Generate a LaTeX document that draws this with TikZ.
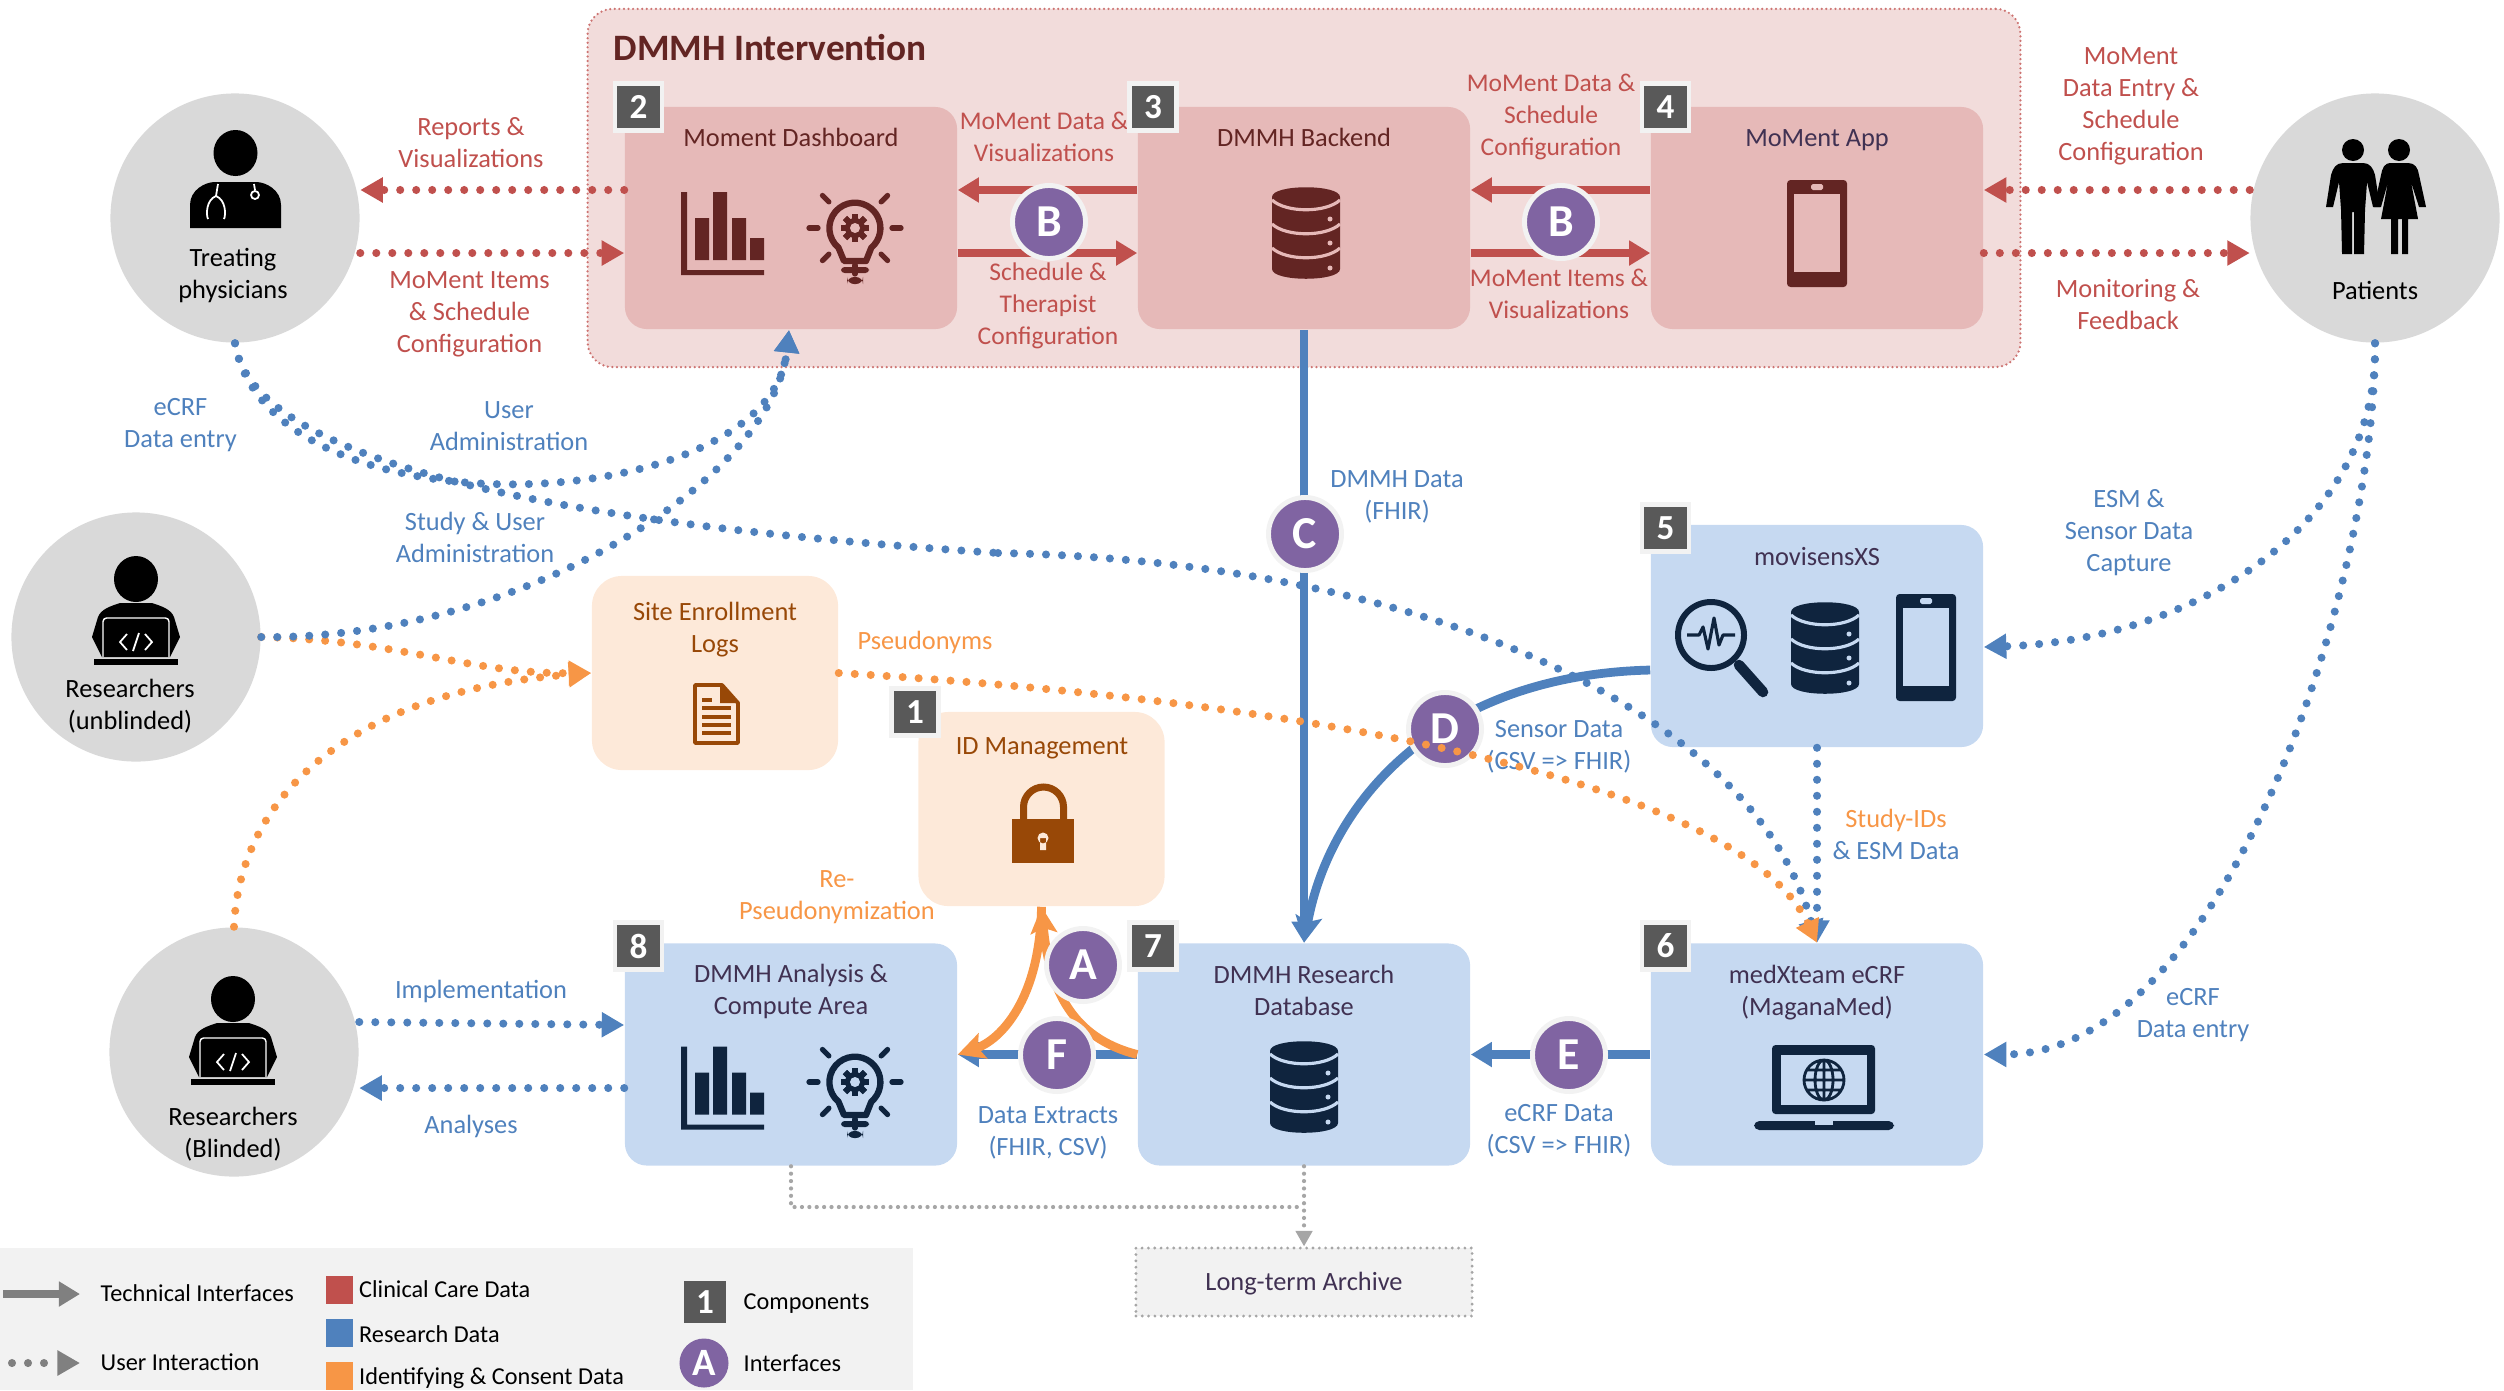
\documentclass[tikz,border=0pt]{standalone}
\usepackage{fontspec}
\setmainfont{Carlito}
\usetikzlibrary{arrows.meta}

\definecolor{clinical}{HTML}{C0504D}
\definecolor{research}{HTML}{4F81BD}
\definecolor{identity}{HTML}{F79646}
\definecolor{redpale}{HTML}{F2DCDB}
\definecolor{redfill}{HTML}{E6B9B8}
\definecolor{redink}{HTML}{632523}
\definecolor{bluefill}{HTML}{C6D9F1}
\definecolor{blueink}{HTML}{0F243E}
\definecolor{bluetext}{HTML}{403152}
\definecolor{orangefill}{HTML}{FDE9D9}
\definecolor{orangeink}{HTML}{984807}
\definecolor{purple}{HTML}{8064A2}
\definecolor{tagfill}{HTML}{595959}
\definecolor{rim}{HTML}{F2F2F2}
\definecolor{persongray}{HTML}{D9D9D9}
\definecolor{archgray}{HTML}{A6A6A6}

\newcommand{\txt}{\fontsize{7.5}{9.1}\selectfont}
\newcommand{\txtsmall}{\fontsize{7.25}{9.1}\selectfont}
\newcommand{\txtlegend}{\fontsize{6.9}{8.4}\selectfont}

\tikzset{
  redbox/.style={fill=redfill, rounded corners=.22cm, minimum width=3.32cm, minimum height=2.22cm, inner sep=0},
  bluebox/.style={fill=bluefill, rounded corners=.22cm, minimum width=3.32cm, minimum height=2.22cm, inner sep=0},
  orangebox/.style={fill=orangefill, rounded corners=.3cm, minimum width=2.46cm, minimum height=1.94cm, inner sep=0},
  person/.style={circle, fill=persongray, minimum size=2.49cm, inner sep=0},
  numtag/.style={fill=tagfill, draw=rim, line width=1.2pt, minimum size=.47cm, inner sep=0, text=white, font=\fontsize{10}{12}\selectfont\bfseries},
  iface/.style={circle, fill=purple, draw=rim, line width=1.4pt, minimum size=.73cm, inner sep=0, text=white, font=\fontsize{13}{15}\selectfont\bfseries},
  redlbl/.style={text=clinical, align=center, font=\txt, inner sep=0},
  redtight/.style={redlbl, font=\txtsmall},
  bluelbl/.style={text=research, align=center, font=\txt, inner sep=0, yshift=-.015cm},
  orangelbl/.style={text=identity, align=center, font=\txt, inner sep=0, yshift=-.015cm},
  inbox/.style={align=center, font=\txt, inner sep=0},
  legendlbl/.style={anchor=west, font=\txtlegend, inner sep=0},
  dots/.style={line width=2.3pt, line cap=round, dash pattern=on 0pt off 4.55pt, -{Triangle[length=6.4pt,width=6.8pt]}},
  plain/.style={line width=2.3pt, -{Triangle[length=6pt,width=6.8pt]}},
  curved/.style={line width=2.5pt, -{Stealth[length=7.5pt,width=7.5pt,inset=1.5pt]}},
  graydots/.style={archgray, line width=1.2pt, line cap=round, dash pattern=on 0pt off 2.1pt}
}

% icons: position, ink colour, colour of the box behind
\newcommand{\barsicon}[3]{
  \begin{scope}[shift={(#1,#2)}]
    \fill[#3] (-41,-41) rectangle (-35,42) (-41,37) rectangle (42,42);
    \fill[#3] (-27,-15) rectangle (-13,27) (-9,-41) rectangle (5,27) (10,-15) rectangle (24,27) (28,5) rectangle (42,27);
  \end{scope}}
\newcommand{\bulbicon}[4]{
  \begin{scope}[shift={(#1,#2)}]
    \draw[#3, line width=1.8pt, line join=round] (-11,33) -- (-16.5,19.7) arc[start angle=130, end angle=410, radius=25.5] -- (11,33) -- cycle;
    \foreach \a in {0,45,...,315}
      \fill[#3, rotate=\a] (-3,-14) rectangle (3,14);
    \fill[#3] (0,0) circle[radius=10];
    \fill[#4] (0,0) circle[radius=5];
    \foreach \a in {0,45,135,180,225,270,315}
      \draw[#3, line width=1.5pt, line cap=round, rotate=\a] (37,0) -- (46,0);
    \fill[#3, rounded corners=1pt] (-14,39) rectangle (14,45);
    \fill[#3, rounded corners=2pt] (-8,49) rectangle (8,56);
  \end{scope}}
\newcommand{\dbicon}[4]{
  \begin{scope}[shift={(#1,#2)}]
    \fill[#3] (-34,-36) .. controls (-34,-49) and (34,-49) .. (34,-36) -- (34,36) .. controls (34,49) and (-34,49) .. (-34,36) -- cycle;
    \foreach \y in {-33,-9,15}
      \draw[#4, line width=.9pt] (-34,\y) .. controls (-20,\y+13) and (20,\y+13) .. (34,\y);
    \foreach \y in {-14,10,35}
      \fill[#4] (24,\y) circle[radius=2.5];
  \end{scope}}
\newcommand{\phoneicon}[4]{
  \begin{scope}[shift={(#1,#2)}]
    \fill[#3, rounded corners=1pt] (-30,-53) rectangle (30,54);
    \fill[#4] (-23,-39) rectangle (23,39);
    \fill[#4, rounded corners=.5pt] (-6,-49) rectangle (6,-43);
  \end{scope}}

\newcommand{\researcher}[2]{
  \begin{scope}[shift={(#1,#2)}]
    \fill[black] (0,0) ellipse[x radius=22, y radius=23];
    \fill[black] (-44,58) -- (-38,38) .. controls (-35,30) and (-25,27) .. (-16,24) -- (16,24) .. controls (25,27) and (35,30) .. (38,38) -- (44,58) -- (34,78) -- (-34,78) -- cycle;
    \draw[white, line width=.4pt, rounded corners=1pt] (-33,78) -- (-33,39) -- (33,39) -- (33,78);
    \fill[black] (-42,80) rectangle (42,86);
    \draw[white, line width=.5pt] (-9,55) -- (-16,63) -- (-9,71) (9,55) -- (16,63) -- (9,71) (3,54) -- (-3,72);
  \end{scope}}

\begin{document}
\begin{tikzpicture}[x=0.01cm,y=-0.01cm]
  \useasboundingbox (0,0) rectangle (2504,1390);

  % intervention frame
  \node[fill=redpale, draw=clinical!80, line width=.7pt, dash pattern=on 0pt off 1.3pt, line cap=round, rounded corners=.25cm, minimum width=14.32cm, minimum height=3.58cm, inner sep=0] (interv) at (1304,188) {};
  \node[anchor=west, text=redink, inner sep=0, font=\fontsize{10.6}{12}\selectfont\bfseries] (intervlbl) at (613,48) {DMMH Intervention};

  % legend
  \fill[rim] (0,1248) rectangle (913,1390);

  % components
  \node[redbox] (dash) at (791,218) {};
  \node[redbox] (backend) at (1304,218) {};
  \node[redbox] (app) at (1817,218) {};
  \node[bluebox] (movisens) at (1817,636) {};
  \node[bluebox] (ecrf) at (1817,1054.5) {};
  \node[bluebox] (resdb) at (1304,1054.5) {};
  \node[bluebox] (compute) at (791,1054.5) {};
  \node[orangebox] (site) at (715,673) {};
  \node[orangebox] (idm) at (1041.5,809) {};
  \node[fill=rim, draw=archgray, line width=.9pt, dash pattern=on 0pt off 1.8pt, line cap=round, minimum width=3.36cm, minimum height=.68cm, inner sep=0] (archive) at (1304,1282) {};

  % people
  \node[person] (treating) at (235,218) {};
  \node[person] (patients) at (2375,218) {};
  \node[person] (unblinded) at (136,637) {};
  \node[person] (blinded) at (234,1052) {};

  % texts in the boxes
  \node[inbox, text=redink] (dashlbl) at (791,137) {Moment Dashboard};
  \node[inbox, text=redink] (backendlbl) at (1304,137) {DMMH Backend};
  \node[inbox, text=bluetext] (applbl) at (1817,140) {MoMent App};
  \node[inbox, text=bluetext] (movisenslbl) at (1817,557) {movisensXS};
  \node[inbox, text=bluetext] (ecrflbl) at (1817,992.5) {medXteam eCRF\\(MaganaMed)};
  \node[inbox, text=bluetext] (resdblbl) at (1304,990) {DMMH Research\\Database};
  \node[inbox, text=bluetext] (computelbl) at (791,991) {DMMH Analysis \&\\Compute Area};
  \node[inbox, text=orangeink] (sitelbl) at (715,629.5) {Site Enrollment\\Logs};
  \node[inbox, text=orangeink] (idmlbl) at (1042,748.5) {ID Management};
  \node[inbox, text=bluetext] (archivelbl) at (1304,1283.5) {Long-term Archive};
  \node[inbox] (treatinglbl) at (233,275.5) {Treating\\physicians};
  \node[inbox] (patientslbl) at (2375,290) {Patients};
  \node[inbox] (unblindedlbl) at (130,706.5) {Researchers\\(unblinded)};
  \node[inbox] (blindedlbl) at (233,1134.5) {Researchers\\(Blinded)};

  % icons
  \barsicon{722}{233}{redink}
  \bulbicon{855}{228}{redink}{redfill}
  \dbicon{1306}{233}{redink}{redfill}
  \phoneicon{1817}{233}{redink}{redfill}
  \barsicon{722}{1087.5}{blueink}
  \bulbicon{855}{1082}{blueink}{bluefill}
  \dbicon{1304}{1087}{blueink}{bluefill}
  \dbicon{1825}{648}{blueink}{bluefill}
  \phoneicon{1926}{647}{blueink}{bluefill}

  % magnifier
  \draw[blueink, line width=1.7pt] (1711,635) circle[radius=33];
  \draw[blueink, line width=3pt, line cap=round] (1739,665) -- (1763,692);
  \draw[blueink, line width=.9pt, line join=round] (1687,635) -- (1699,635) -- (1703,627) -- (1708,649) -- (1714,618) -- (1719,645) -- (1723,635) -- (1735,635);

  % laptop
  \fill[blueink, rounded corners=1pt] (1772,1045) rectangle (1875,1114);
  \fill[bluefill] (1781,1055) rectangle (1867,1105);
  \fill[blueink, rounded corners=1.5pt] (1754,1121) rectangle (1894,1130);
  \fill[bluefill] (1815,1121) rectangle (1833,1125);
  \draw[blueink, line width=.8pt] (1824,1080) circle[radius=20] (1824,1080) ellipse[x radius=9, y radius=20] (1824,1060) -- (1824,1100) (1804,1080) -- (1844,1080) (1807,1070) -- (1841,1070) (1807,1090) -- (1841,1090);

  % lock
  \draw[orangeink, line width=2pt] (1023.5,822) -- (1023.5,807) arc[start angle=180, end angle=360, radius=20] -- (1063.5,822);
  \fill[orangeink] (1012,819) rectangle (1074,863);
  \fill[orangefill] (1043,838) circle[radius=5.5] (1040,838) rectangle (1046,850);

  % document
  \draw[orangeink, line width=1.1pt, line join=round] (695,685) -- (722,685) -- (738,703) -- (738,743) -- (695,743) -- cycle;
  \fill[orangeink] (720,685) -- (738,703) -- (720,703) -- cycle;
  \foreach \y in {708,717,725,733}
    \draw[orangeink, line width=.9pt] (702,\y) -- (731,\y);
  \draw[orangeink, line width=.9pt] (702,700) -- (712,700);

  % people icons
  \fill[black] (235.5,153) ellipse[x radius=22, y radius=23];
  \fill[black] (190,228) -- (190,205) .. controls (190,190) and (205,182) .. (215,182) -- (256,182) .. controls (266,182) and (281,190) .. (281,205) -- (281,228) -- cycle;
  \draw[white, line width=.5pt] (218,184) -- (216,196) .. controls (206,200) and (206,215) .. (208,219) (216,196) .. controls (226,200) and (226,215) .. (224,219) (254,184) -- (255,190) (255,195) circle[radius=4];
  \researcher{136}{579}
  \researcher{233}{999}
  % couple
  \fill[black] (2353,150) ellipse[x radius=11, y radius=11] (2399,150) ellipse[x radius=11, y radius=11];
  \fill[black] (2343,163) -- (2363,163) .. controls (2370,163) and (2373,168) .. (2375,175) -- (2380,207) -- (2373,207) -- (2367,182) -- (2365,210) -- (2364,254) -- (2354,254) -- (2354,212) -- (2352,212) -- (2352,254) -- (2342,254) -- (2341,210) -- (2339,182) -- (2333,207) -- (2326,207) -- (2331,175) .. controls (2333,168) and (2336,163) .. (2343,163);
  \fill[black] (2390,163) -- (2408,163) .. controls (2415,163) and (2418,168) .. (2419,175) -- (2426,207) -- (2419,207) -- (2411,182) -- (2418,219) -- (2408,219) -- (2408,254) -- (2402,254) -- (2402,219) -- (2398,219) -- (2398,254) -- (2391,254) -- (2391,219) -- (2381,219) -- (2388,182) -- (2381,207) -- (2374,207) -- (2381,175) .. controls (2382,168) and (2385,163) .. (2390,163);

  % clinical care arrows
  \draw[dots, clinical] ([yshift=.28cm]dash.west) -- ([yshift=.28cm]treating.east);
  \draw[dots, clinical] ([yshift=-.35cm]treating.east) -- ([yshift=-.35cm]dash.west);
  \draw[dots, clinical] ([yshift=.28cm]patients.west) -- ([yshift=.28cm]app.east);
  \draw[dots, clinical] ([yshift=-.35cm]app.east) -- ([yshift=-.35cm]patients.west);
  \draw[plain, clinical] ([yshift=.28cm]backend.west) -- ([yshift=.28cm]dash.east);
  \draw[plain, clinical] ([yshift=-.35cm]dash.east) -- ([yshift=-.35cm]backend.west);
  \draw[plain, clinical] ([yshift=.28cm]app.west) -- ([yshift=.28cm]backend.east);
  \draw[plain, clinical] ([yshift=-.35cm]backend.east) -- ([yshift=-.35cm]app.west);

  % identifying data arrows, under the research ones
  \draw[dots, identity] (unblinded.east) .. controls (400,640) and (470,674) .. (site.west);
  \draw[dots, identity] (blinded.north) .. controls (240,790) and (360,690) .. (site.west);

  % research arrows
  \coordinate (dashin) at (789,330);
  \draw[plain, research] (backend.south) -- (resdb.north);
  \draw[curved, research] ([yshift=-.34cm]movisens.west) .. controls (1440,675) and (1330,800) .. (resdb.north);
  \draw[plain, research] (ecrf.west) -- (resdb.east);
  \draw[plain, research] (resdb.west) -- (compute.east);
  \draw[dots, research] ([yshift=.30cm]blinded.east) -- ([yshift=.295cm]compute.west);
  \draw[dots, research] ([yshift=-.335cm]compute.west) -- ([yshift=-.36cm]blinded.east);
  \draw[dots, research] (treating.south) .. controls (270,540) and (770,520) .. (dashin);
  \draw[dots, research] (unblinded.east) .. controls (520,640) and (772,480) .. (dashin);
  \coordinate (ecrfmid) at (998,553);
  \draw[research, line width=2.3pt, line cap=round, dash pattern=on 0pt off 4.55pt] (treating.south) .. controls (255,480) and (650,530) .. (ecrfmid);
  \draw[dots, research] (ecrfmid) .. controls (1400,560) and (1750,700) .. (ecrf.north);
  \draw[dots, research] (patients.south) .. controls (2380,520) and (2200,640) .. ([yshift=-.11cm]movisens.east);
  \draw[dots, research] (patients.south) .. controls (2375,587) and (2225,1054) .. (ecrf.east);
  \draw[dots, research] (movisens.south) -- (ecrf.north);

  % re-pseudonymization
  \draw[curved, identity] (idm.south) .. controls (1040,1000) and (1000,1040) .. (compute.east);
  \draw[curved, identity] (resdb.west) .. controls (1080,1040) and (1050,1000) .. (idm.south);

  % archive
  \coordinate (archjoin) at (1304,1207);
  \draw[graydots] (compute.south) |- (archjoin);
  \draw[graydots, -{Triangle[length=4.4pt,width=4.6pt]}] (resdb.south) -- (archive.north);

  % labels on the connectors
  \node[redlbl] (l1) at (471,143) {Reports \&\\Visualizations};
  \node[redlbl] (l2) at (469.5,314) {MoMent Items\\\& Schedule\\Configuration};
  \node[redtight] (l3) at (1044,137) {MoMent Data \&\\Visualizations};
  \node[redtight] (l4) at (1048,306) {Schedule \&\\Therapist\\Configuration};
  \node[redtight] (l5) at (1551,117) {MoMent Data \&\\Schedule\\Configuration};
  \node[redtight] (l6) at (1559,294) {MoMent Items \&\\Visualizations};
  \node[redlbl] (l7) at (2131,106) {MoMent\\Data Entry \&\\Schedule\\Configuration};
  \node[redlbl] (l8) at (2128,305) {Monitoring \&\\Feedback};
  \node[bluelbl] (l9) at (180.5,424) {eCRF\\Data entry};
  \node[bluelbl] (l10) at (509,425) {User\\Administration};
  \node[bluelbl] (l11) at (475,536) {Study \& User\\Administration};
  \node[orangelbl] (l12) at (925,641) {Pseudonyms};
  \node[bluelbl] (l13) at (1397,495) {DMMH Data\\(FHIR)};
  \node[bluelbl] (l14) at (2129,531) {ESM \&\\Sensor Data\\Capture};
  \node[bluelbl] (l15) at (1559,745) {Sensor Data\\(CSV => FHIR)};
  \node[bluelbl] (l16) at (1896,833) {\textcolor{identity}{Study-IDs}\\\& ESM Data};
  \node[bluelbl] (l17) at (2193,1014) {eCRF\\Data entry};
  \node[bluelbl] (l18) at (1559,1129) {eCRF Data\\(CSV => FHIR)};
  \node[bluelbl] (l19) at (1048,1131) {Data Extracts\\(FHIR, CSV)};
  \node[orangelbl] (l20) at (837,896) {Re-\\Pseudonymization};
  \node[bluelbl] (l21) at (481,990) {Implementation};
  \node[bluelbl] (l22) at (471,1125) {Analyses};

  % interfaces
  \node[iface] (ifb1) at (1049,222) {B};
  \node[iface] (ifb2) at (1561,222) {B};
  \node[iface] (ifc) at (1305,534) {C};
  \node[iface] (ifd) at (1445,729) {D};
  \node[iface] (ife) at (1569,1055) {E};
  \node[iface] (ifa) at (1083,965) {A};
  \node[iface] (iff) at (1057,1055) {F};

  % pseudonyms run over the interface
  \draw[dots, identity] (site.east) .. controls (1300,700) and (1740,780) .. (ecrf.north);

  % component numbers
  \node[numtag] (n2) at (638.5,107) {2};
  \node[numtag] (n3) at (1153,107) {3};
  \node[numtag] (n4) at (1665.5,107) {4};
  \node[numtag] (n5) at (1665.5,528) {5};
  \node[numtag] (n1) at (915,712) {1};
  \node[numtag] (n8) at (638.5,946) {8};
  \node[numtag] (n7) at (1153,946) {7};
  \node[numtag] (n6) at (1665.5,946) {6};

  % legend content
  \coordinate (lgtech) at (3,1294);
  \coordinate (lgtechend) at (80,1294);
  \coordinate (lguser) at (12,1363);
  \coordinate (lguserend) at (80,1363);
  \draw[plain, gray] (lgtech) -- (lgtechend);
  \draw[dots, gray] (lguser) -- (lguserend);
  \node[legendlbl] (lgt1) at (100,1293) {Technical Interfaces};
  \node[legendlbl] (lgt2) at (100,1362) {User Interaction};
  \fill[clinical] (326,1276) rectangle (353,1304);
  \fill[research] (326,1319) rectangle (353,1347);
  \fill[identity] (326,1362) rectangle (353,1390);
  \node[legendlbl] (lgt3) at (358.5,1289) {Clinical Care Data};
  \node[legendlbl] (lgt4) at (358.5,1334) {Research Data};
  \node[legendlbl] (lgt5) at (358.5,1378) {Identifying \& Consent Data};
  \node[numtag, draw=none, minimum width=.42cm, minimum height=.42cm] (lgn) at (705,1302) {1};
  \node[legendlbl] (lgt6) at (743,1304) {Components};
  \node[iface, draw=none, minimum size=.49cm, font=\fontsize{11}{13}\selectfont\bfseries] (lga) at (704,1363) {A};
  \node[legendlbl] (lgt7) at (743,1363) {Interfaces};
\end{tikzpicture}
\end{document}
